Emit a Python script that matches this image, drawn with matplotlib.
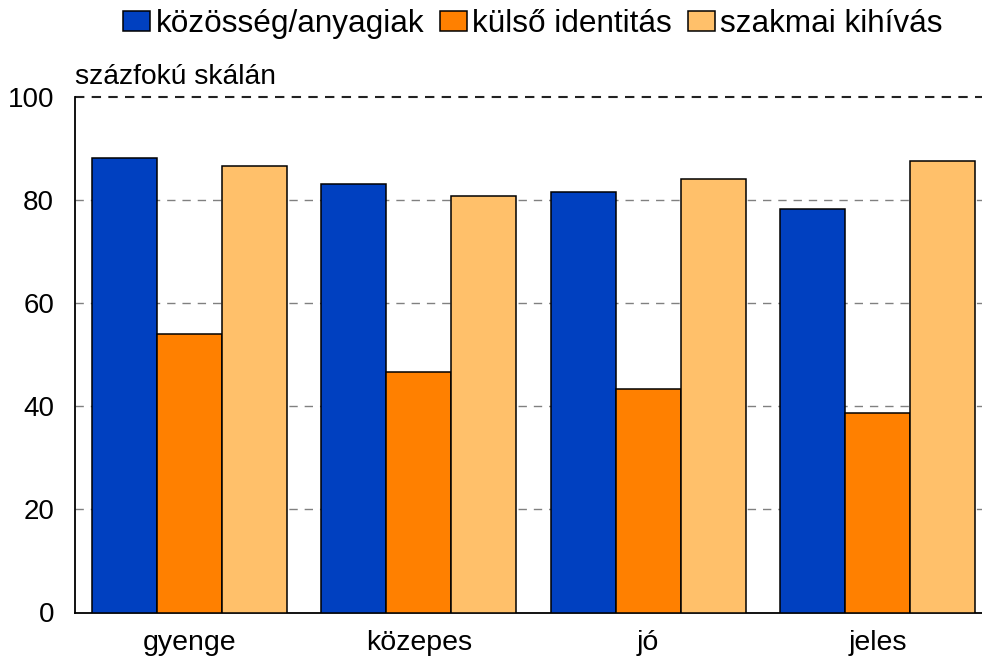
import numpy as np
import matplotlib.pyplot as plt

plt.rcParams['font.family'] = ['Liberation Sans', 'DejaVu Sans']

# data
categories = ['gyenge', 'közepes', 'jó', 'jeles']
series_names = ['közösség/anyagiak', 'külső identitás', 'szakmai kihívás']
kozosseg = [88.2, 83.1, 81.6, 78.3]
kulso = [54.0, 46.6, 43.3, 38.6]
szakmai = [86.6, 80.8, 84.1, 87.6]
yticks = [0, 20, 40, 60, 80, 100]

colors = ['#0040C0', '#FF8000', '#FFC06A']

fig = plt.figure(figsize=(9.82, 6.59), dpi=100)
# right edge of the plot runs past the image, like the original
ax = fig.add_axes([75 / 982, 1 - 612.5 / 659, (992 - 75) / 982, (612.5 - 96.7) / 659])

x = np.arange(len(categories))
w = 0.2835
for i, (vals, name) in enumerate(zip([kozosseg, kulso, szakmai], series_names)):
    ax.bar(x + (i - 1) * w, vals, w, color=colors[i], edgecolor='black',
           linewidth=1.1, label=name, zorder=3)

# dashed grid lines
for yv in yticks[1:]:
    if yv == 100:
        ax.axhline(yv, color='#222222', linestyle=(0, (4.5, 3.5)), linewidth=1.5,
                   zorder=1, clip_on=False)
    else:
        ax.axhline(yv, color='#808080', linestyle=(0, (6, 5)), linewidth=1.0,
                   zorder=1, clip_on=False)

ax.set_xlim(-0.5, 3.5)
ax.set_ylim(0, 100)
ax.set_yticks(yticks)
ax.set_xticks(x)
ax.set_xticklabels(categories, fontsize=20.5)
ax.tick_params(axis='y', length=0, labelsize=20, pad=15)
ax.tick_params(axis='x', length=0, pad=12.5)

for s in ['top', 'right']:
    ax.spines[s].set_visible(False)
ax.spines['left'].set_linewidth(1.3)
ax.spines['bottom'].set_linewidth(1.3)

fig.text(75 / 982, 1 - 84 / 659, 'százfokú skálán', fontsize=20.3, va='baseline', ha='left')

fig.legend(loc='center', bbox_to_anchor=(533 / 982, 1 - 24 / 659), ncol=3, frameon=False,
           fontsize=22.7, handlelength=0.85, handleheight=0.6, handletextpad=0.18,
           columnspacing=0.5, borderpad=0, borderaxespad=0)

fig.savefig('out.png', dpi=100)
